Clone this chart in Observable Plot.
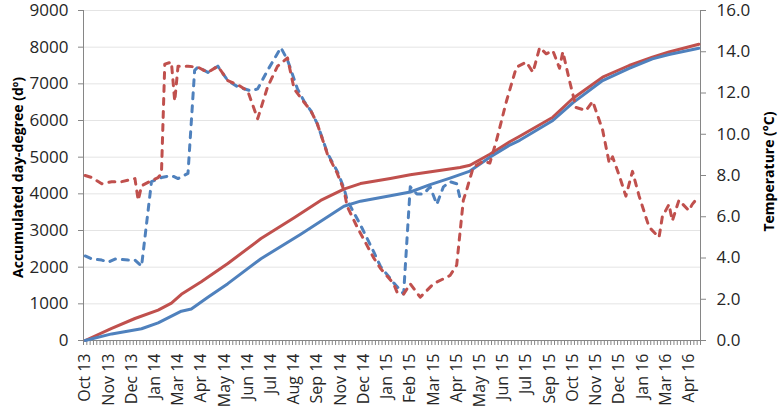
<!DOCTYPE html>
<html><head><meta charset="utf-8">
<script src="https://cdn.jsdelivr.net/npm/d3@7"></script>
<script src="https://cdn.jsdelivr.net/npm/@observablehq/plot@0.6"></script>
<style>
html,body{margin:0;padding:0;background:#fff;}
#chart{width:780px;height:417px;}
</style></head><body><div id="chart"></div>
<script>
// Category axis: one category per sampling step, a label every 7 categories
const categoryCount = 186;
const labelEvery = 7;
const monthLabels = ["Oct 13","Nov 13","Dec 13","Jan 14","Mar 14","Apr 14","May 14","Jun 14","Jul 14","Aug 14","Sep 14","Nov 14","Dec 14","Jan 15","Feb 15","Mar 15","Apr 15","May 15","Jun 15","Jul 15","Sep 15","Oct 15","Nov 15","Dec 15","Jan 16","Mar 16","Apr 16"];

const accTicks = [0,1000,2000,3000,4000,5000,6000,7000,8000,9000];
const tempTicks = [0,2,4,6,8,10,12,14,16];

// Accumulated day-degree (left axis)
const redAccIdx = [0,8,15,22,26,29,35,43,53,63,71,78,83,92,98,113,116,122,128,131,141,147,156,164,171,176,185];
const redAccVal = [0,330,600,830,1020,1260,1600,2100,2780,3350,3820,4130,4280,4420,4520,4720,4780,5080,5420,5570,6090,6600,7180,7500,7730,7870,8080];
const blueAccIdx = [0,8,17,22,29,32,37,43,53,65,78,83,92,98,104,110,116,122,128,131,141,147,156,164,171,176,185];
const blueAccVal = [0,180,320,480,800,860,1180,1550,2230,2900,3660,3800,3950,4050,4250,4430,4620,5000,5330,5460,6000,6480,7090,7420,7680,7800,7970];

// Temperature (right axis)
const redTIdx = [0,2,5,8,11,15,16,17,20,22,23,24,26,27,28,31,34,37,40,43,46,49,52,55,58,61,63,66,68,70,73,76,78,79,82,87,89,93,94,96,98,101,105,110,112,114,115,117,120,122,124,127,130,133,135,137,139,141,143,144,146,148,151,153,156,158,159,161,163,165,167,168,170,173,174,176,177,179,182,183,185];
const redTVal = [8.0,7.9,7.6,7.7,7.7,7.85,6.8,7.5,7.75,7.9,8.1,13.4,13.5,11.6,13.3,13.3,13.25,13.0,13.3,12.6,12.4,12.1,10.75,12.3,13.3,13.7,12.2,11.55,11.15,10.5,9.05,8.1,7.3,6.5,5.5,4.0,3.5,2.75,2.35,2.25,2.75,2.1,2.75,3.15,3.65,6.8,7.3,8.4,8.7,8.6,9.7,11.6,13.25,13.5,13.0,14.2,13.9,14.05,13.2,14.0,12.6,11.3,11.15,11.6,10.2,8.6,8.9,8.0,7.0,8.2,7.0,6.5,5.5,5.0,6.0,6.6,5.8,6.8,6.3,6.6,7.0];
const blueTIdx = [0,2,5,7,9,13,15,17,20,23,26,28,31,33,34,37,40,43,46,50,52,55,59,61,64,66,68,70,73,76,78,79,83,87,89,93,96,98,100,102,104,106,108,110,112,113,114];
const blueTVal = [4.1,3.95,3.9,3.8,3.95,3.9,3.9,3.6,7.7,7.9,8.0,7.85,8.1,13.1,13.25,13.0,13.3,12.6,12.3,12.1,12.2,13.1,14.2,13.6,12.2,11.6,11.15,10.5,9.1,8.2,7.4,6.8,5.6,4.3,3.6,2.8,2.26,7.45,7.1,7.1,7.45,6.6,7.45,7.7,7.6,6.9,6.8];

const RED = "#C0504D", BLUE = "#4F81BD", AXIS = "#868686", TEXT = "#262626";
const accMax = 9000, tempMax = 16, K = accMax / tempMax;

const zip = (xs, ys, f = v => v) => xs.slice(0, Math.min(xs.length, ys.length)).map((x, i) => ({x, y: f(ys[i])}));
const redAcc = zip(redAccIdx, redAccVal);
const blueAcc = zip(blueAccIdx, blueAccVal);
const redT = zip(redTIdx, redTVal, v => v * K);
const blueT = zip(blueTIdx, blueTVal, v => v * K);

const boundaries = d3.range(0, categoryCount + 1).map(i => i - 0.5);
const labelPos = monthLabels.map((_, i) => i * labelEvery);
const font = "'Open Sans', sans-serif";

const chart = Plot.plot({
  width: 780, height: 417,
  marginLeft: 83, marginRight: 80, marginTop: 10, marginBottom: 77,
  x: {domain: [-0.5, categoryCount - 0.5], axis: null},
  y: {domain: [0, accMax], axis: null},
  style: {fontFamily: font, background: "#fff", color: TEXT, overflow: "visible"},
  marks: [
    Plot.ruleY(accTicks.slice(1), {stroke: "#e4e4e4", strokeWidth: 1}),
    Plot.ruleX([-0.5, categoryCount - 0.5], {stroke: AXIS}),
    Plot.ruleY([0], {stroke: AXIS}),
    Plot.axisY(accTicks, {anchor: "left", tickSize: 5, tickPadding: 10, stroke: AXIS, fill: TEXT, fontSize: 17, label: null, tickFormat: d => String(d)}),
    Plot.axisY(tempTicks.map(t => t * K), {anchor: "right", tickSize: 5, tickPadding: 11, stroke: AXIS, fill: TEXT, fontSize: 17, label: null, tickFormat: d => (d / K).toFixed(1)}),
    Plot.axisX(boundaries, {anchor: "bottom", tickSize: 5, stroke: AXIS, tickFormat: () => "", label: null}),
    Plot.axisX(labelPos, {anchor: "bottom", tickSize: 0, tickPadding: 13, tickRotate: -90, fill: TEXT, fontSize: 16, label: null, tickFormat: i => monthLabels[Math.round(i / labelEvery)]}),
    Plot.line(redAcc, {x: "x", y: "y", stroke: RED, strokeWidth: 3}),
    Plot.line(blueAcc, {x: "x", y: "y", stroke: BLUE, strokeWidth: 3}),
    Plot.line(blueT, {x: "x", y: "y", stroke: BLUE, strokeWidth: 3, strokeDasharray: "6,7", strokeLinecap: "round"}),
    Plot.line(redT, {x: "x", y: "y", stroke: RED, strokeWidth: 3, strokeDasharray: "6,7", strokeLinecap: "round"}),
    Plot.text(["Accumulated day-degree (dº)"], {frameAnchor: "left", textAnchor: "middle", dx: -65, dy: 2, rotate: -90, fontSize: 14, fontWeight: "bold", fill: "#000"}),
    Plot.text(["Temperature (°C)"], {frameAnchor: "right", textAnchor: "middle", dx: 69, dy: -4, rotate: -90, fontSize: 14, fontWeight: "bold", fill: "#000"})
  ]
});
document.getElementById("chart").appendChild(chart);
</script>
</body></html>
